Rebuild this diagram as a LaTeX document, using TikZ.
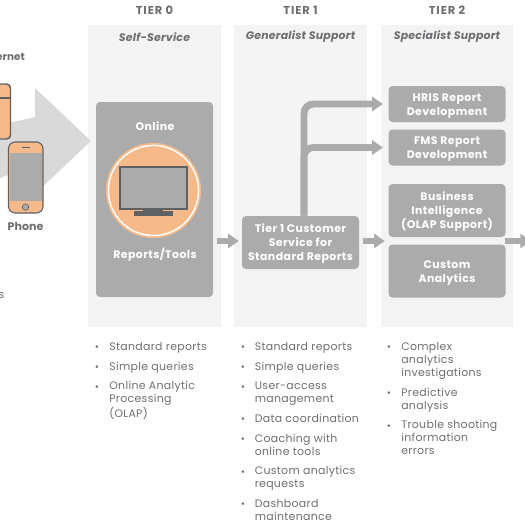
\documentclass[tikz,border=0pt]{standalone}
\usepackage{fontspec}
\setmainfont{Poppins}
\usetikzlibrary{arrows.meta, positioning, calc}
\definecolor{boxgray}{HTML}{ABABAB}
\definecolor{tierbg}{HTML}{F3F3F3}
\definecolor{bigarrow}{HTML}{D9D9D9}
\definecolor{peach}{HTML}{F5B98A}
\definecolor{darkline}{HTML}{5F6062}
\definecolor{textgray}{HTML}{6D6E71}
\newcommand{\boxtop}{\rule{0pt}{8.6pt}}

\begin{document}
\begin{tikzpicture}[
    x=0.75pt, y=-0.75pt,
    tier/.style={fill=tierbg, inner sep=0, minimum width=99.4pt, minimum height=226.5pt},
    head/.style={text=textgray, inner sep=0, font=\fontsize{8.6}{9}\selectfont\bfseries\addfontfeatures{LetterSpace=8}},
    device/.style={text=textgray, inner sep=0, font=\fontsize{8.3}{9}\selectfont\bfseries},
    sub/.style={text=textgray, inner sep=0, font=\fontsize{8.2}{9}\selectfont\bfseries\itshape\addfontfeatures{LetterSpace=2}},
    box/.style={fill=boxgray, rounded corners=3pt, text=white, align=center, inner sep=0, minimum width=87.75pt, font=\fontsize{8.2}{10.5}\selectfont\bfseries\addfontfeatures{LetterSpace=4}},
    flow/.style={line width=5.2pt, draw=boxgray, -{Triangle[length=8pt, width=10.5pt]}, rounded corners=7pt},
    item/.style={text=textgray, anchor=north west, align=left, inner sep=0, font=\fontsize{8.2}{9.75}\selectfont\addfontfeatures{LetterSpace=3}},
    dot/.style={text=textgray, inner sep=0, font=\fontsize{7.6}{9.75}\selectfont}
]
\useasboundingbox (0,0) rectangle (525,525);
\clip (0,0) rectangle (525,525);

\node[tier] (tierzero) at (154.25,176) {};
\node[tier] (tierone) at (300.5,176) {};
\node[tier] (tiertwo) at (447,176) {};

\node[head] (headzero) at (154.5,10) {TIER 0};
\node[head] (headone) at (300.5,10) {TIER 1};
\node[head] (headtwo) at (447,10) {TIER 2};
\node[sub] (subzero) at (154.5,37) {Self-Service};
\node[sub] (subone) at (300.5,37) {Generalist Support};
\node[sub] (subtwo) at (447,37) {Specialist Support};

\fill[bigarrow] (0,125) -- (35,117) -- (35,88) -- (91,141) -- (35,194) -- (35,165) -- (0,178) -- cycle;

\draw[darkline, fill=peach, line width=1.1pt, rounded corners=3pt] (-20,84) rectangle (10.5,139);
\draw[darkline, line width=1.1pt] (0,98) -- (10.5,98);
\draw[darkline, fill=peach, line width=0.8pt, rounded corners=5pt] (8.5,142) rectangle (43,213);
\fill[boxgray] (9.5,153) rectangle (42,201);
\draw[darkline, line width=0.8pt] (22,147.5) -- (30,147.5);
\draw[darkline, fill=boxgray, line width=0.5pt] (25.5,207) circle (2.4pt);

\node[device, font=\fontsize{7.8}{9}\selectfont\bfseries] (internet) at (25,57) [anchor=east] {ernet};
\node[device] (phone) at (25.5,226) {Phone};
\node[item, anchor=east] (cutoff) at (4.5,295) {s};

\node[box, minimum width=87.75pt, minimum height=146.25pt] (online) at (154.5,199.5) {};
\node[box, fill=none] (onlinelabel) at (155,126.5) {Online};
\fill[peach] (153.5,190.5) circle (35.7pt);
\draw[white, line width=1.1pt] (153.5,190.5) circle (33.8pt);
\draw[darkline, fill=boxgray, line width=1.5pt] (120,166.5) rectangle (187,208.5);
\fill[darkline] (143,209) rectangle (163,212);
\fill[darkline] (134,211) rectangle (172.5,215.5);
\node[box, fill=none] (reportslabel) at (155,254.5) {Reports/Tools};

\node[box, minimum height=39.75pt] (customer) at (300.5,242.5) {\boxtop Tier 1 Customer\\Service for\\Standard Reports};
\node[box, minimum height=27pt] (hris) at (447,104) {\boxtop HRIS Report\\Development};
\node[box, minimum height=27pt] (fms) at (447,147.5) {\boxtop FMS Report\\Development};
\node[box, minimum height=39.75pt] (bi) at (447,210.5) {\boxtop Business\\Intelligence\\(OLAP Support)};
\node[box, minimum height=39.75pt] (custom) at (447,271) {\boxtop Custom\\Analytics};

\coordinate (flowy) at (0,241);
\coordinate (exit) at (531,241);
\draw[flow, shorten <=3pt, shorten >=2.2pt] (online.east |- flowy) -- (customer.west |- flowy);
\draw[flow, shorten <=3pt, shorten >=2.6pt] (customer.east |- flowy) -- (bi.west |- flowy);
\draw[flow, shorten <=-0.5pt] (bi.east |- flowy) -- (exit);
\draw[flow, shorten >=4pt] ([xshift=2.6pt]customer.north) |- (hris.west);
\draw[flow, shorten >=4pt] ([xshift=2.6pt]customer.north) |- (fms.west);

\foreach \i/\ypos/\txt in {1/341/Standard reports, 2/361/Simple queries, 3/380.5/{Online Analytic\\Processing\\(OLAP)}} {
    \node[item] (zero\i) at (109,\ypos) {\strut\txt};
    \node[dot] (zerodot\i) at (97,\ypos+7.5) {•};
}
\foreach \i/\ypos/\txt in {1/341/Standard reports, 2/361/Simple queries, 3/380.5/{User-access\\management}, 4/413/Data coordination, 5/433/{Coaching with\\online tools}, 6/465.5/{Custom analytics\\requests}, 7/498/{Dashboard\\maintenance}} {
    \node[item] (one\i) at (254.5,\ypos) {\strut\txt};
    \node[dot] (onedot\i) at (243,\ypos+7.5) {•};
}
\foreach \i/\ypos/\txt in {1/341/{Complex\\analytics\\investigations}, 2/387/{Predictive\\analysis}, 3/419.5/{Trouble shooting\\information\\errors}} {
    \node[item] (two\i) at (401,\ypos) {\strut\txt};
    \node[dot] (twodot\i) at (389,\ypos+7.5) {•};
}
\end{tikzpicture}
\end{document}
